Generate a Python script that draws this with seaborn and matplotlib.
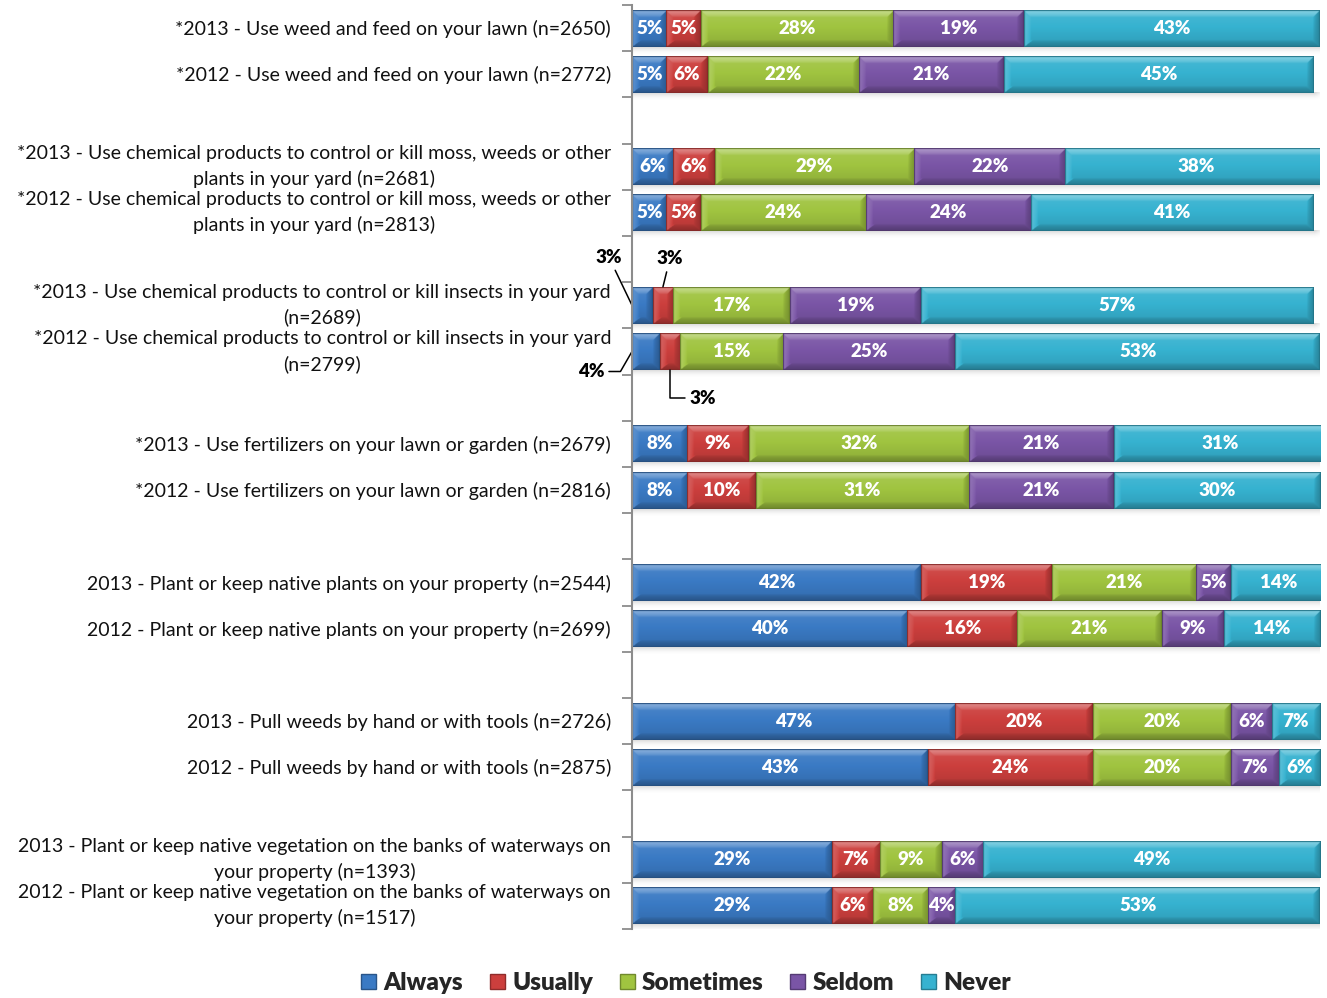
import textwrap
import numpy as np
import pandas as pd
import matplotlib
matplotlib.use("Agg")
import matplotlib.pyplot as plt
from matplotlib.colors import to_rgb
from matplotlib.patches import Patch
from matplotlib.transforms import ScaledTranslation
import seaborn as sns

# ---------------------------------------------------------------- data
series = ["Always", "Usually", "Sometimes", "Seldom", "Never"]

questions = [
    "*2013 - Use weed and feed on your lawn (n=2650)",
    "*2012 - Use weed and feed on your lawn (n=2772)",
    "*2013 - Use chemical products to control or kill moss, weeds or other plants in your yard (n=2681)",
    "*2012 - Use chemical products to control or kill moss, weeds or other plants in your yard (n=2813)",
    "*2013 - Use chemical products to control or kill insects in your yard (n=2689)",
    "*2012 - Use chemical products to control or kill insects in your yard (n=2799)",
    "*2013 - Use fertilizers on your lawn or garden (n=2679)",
    "*2012 - Use fertilizers on your lawn or garden (n=2816)",
    "2013 - Plant or keep native plants on your property (n=2544)",
    "2012 - Plant or keep native plants on your property (n=2699)",
    "2013 - Pull weeds by hand or with tools (n=2726)",
    "2012 - Pull weeds by hand or with tools (n=2875)",
    "2013 - Plant or keep native vegetation on the banks of waterways on your property (n=1393)",
    "2012 - Plant or keep native vegetation on the banks of waterways on your property (n=1517)",
]
always    = [5, 5, 6, 5, 3, 4, 8, 8, 42, 40, 47, 43, 29, 29]
usually   = [5, 6, 6, 5, 3, 3, 9, 10, 19, 16, 20, 24, 7, 6]
sometimes = [28, 22, 29, 24, 17, 15, 32, 31, 21, 21, 20, 20, 9, 8]
seldom    = [19, 21, 22, 24, 19, 25, 21, 21, 5, 9, 6, 7, 6, 4]
never     = [43, 45, 38, 41, 57, 53, 31, 30, 14, 14, 7, 6, 49, 53]

colors = ["#3a7ac4", "#cc3f3d", "#a0c440", "#7a55a6", "#36b2d0"]

# ---------------------------------------------------------------- layout
# each 2013/2012 pair is followed by an empty slot
n_rows = len(questions)
slots = [i + i // 2 for i in range(n_rows)]
n_slots = slots[-1] + 1

df = pd.DataFrame({"slot": slots, "question": questions,
                   "Always": always, "Usually": usually, "Sometimes": sometimes,
                   "Seldom": seldom, "Never": never})

sns.set_theme(style="white")
plt.rcParams["font.family"] = ["Lato", "DejaVu Sans"]

W, H = 1327, 998
fig, ax = plt.subplots(figsize=(W / 100, H / 100), dpi=100)
fig.subplots_adjust(left=632 / W, right=1320 / W, top=1 - 5 / H, bottom=1 - 929 / H)

bar_h = 0.8
lefts = np.zeros(n_slots)
segments = []  # (patch, series, value, row, colour)
row_of_slot = {s: i for i, s in enumerate(slots)}
for name, col in zip(series, colors):
    n0 = len(ax.patches)
    sns.barplot(data=df, x=name, y="slot", order=list(range(n_slots)), orient="h",
                color=col, saturation=1, width=bar_h, errorbar=None, ax=ax)
    for p in ax.patches[n0:]:
        s = int(round(p.get_y() + p.get_height() / 2))
        if s not in row_of_slot:
            continue
        r = row_of_slot[s]
        v = df.loc[r, name]
        p.set_x(lefts[s])
        p.set_linewidth(0)
        segments.append((p, name, v, r, col))
        lefts[s] += v

ax.set_xlim(0, 100)
ax.set_ylim(n_slots - 0.5, -0.5)

# pixel scale of one data unit
pos = ax.get_position()
px_per_x = pos.width * W / 100.0
px_per_y = pos.height * H / n_slots


def shade(c, s):
    c = np.asarray(c)
    s = s[..., None]
    return np.where(s > 0, c + (1 - c) * s, c * (1 + s))


def bevel_image(rgb, w_px, h_px, b=7.0):
    nx = max(int(round(w_px)) * 2, 4)
    ny = int(round(h_px)) * 2
    X, Y = np.meshgrid((np.arange(nx) + 0.5) / 2, (np.arange(ny) + 0.5) / 2)
    wp, hp = nx / 2, ny / 2
    dl, dr, dt, db = X, wp - X, Y, hp - Y
    t = Y / hp
    s = 0.10 - 0.22 * t
    d = np.stack([dt, dl, dr, db * 1.3])
    k = np.argmin(d, axis=0)
    dmin = np.min(np.stack([dt, dl, dr, db]), axis=0)
    edge_s = np.array([0.40, 0.18, -0.25, -0.30])[k]
    inb = dmin < b
    ramp = np.clip(1 - dmin / b, 0, 1) ** 0.6
    s = np.where(inb, s * (1 - ramp) + edge_s * ramp, s)
    s = np.where(dmin < 0.8, -0.35, s)
    return np.clip(shade(rgb, s), 0, 1)


for p, name, v, r, col in segments:
    x0, y0 = p.get_x(), p.get_y()
    w, h = p.get_width(), p.get_height()
    img = bevel_image(to_rgb(col), w * px_per_x, h * px_per_y)
    ax.imshow(img, extent=(x0, x0 + w, y0 + h, y0), origin="upper",
              aspect="auto", interpolation="bilinear", zorder=3)

# soft shadow under each full bar
for i, s in enumerate(slots):
    total = lefts[s]
    y_bot = s + bar_h / 2
    sh_px = 8
    ny = sh_px * 2
    nx = int(total * px_per_x) + 8
    yy = (np.arange(ny) + 0.5) / ny
    xx = np.arange(nx)
    a = 0.32 * (1 - yy)[:, None] ** 2 * np.clip((nx - xx) / 8.0, 0, 1)[None, :]
    rgba = np.zeros((ny, nx, 4))
    rgba[..., :3] = 0.45
    rgba[..., 3] = a
    ax.imshow(rgba, extent=(0.2, 0.2 + nx / px_per_x, y_bot + sh_px / px_per_y, y_bot - 1 / px_per_y),
              origin="upper", aspect="auto", interpolation="bilinear", zorder=2)

ax.set_xlim(0, 100)
ax.set_ylim(n_slots - 0.5, -0.5)

# ---------------------------------------------------------------- value labels
callouts = {
    (4, "Always"):  dict(anchor="mid-left", offset=(-16.6, 34.6), conn="arc3,rad=0"),
    (4, "Usually"): dict(anchor="top", offset=(5.0, 20.2), conn="arc3,rad=0"),
    (5, "Always"):  dict(anchor="mid-left", offset=(-29.5, -14.4), conn="angle,angleA=0,angleB=60,rad=0"),
    (5, "Usually"): dict(anchor="bottom", offset=(23.8, -20.2), conn="angle,angleA=0,angleB=90,rad=0"),
}
for p, name, v, r, col in segments:
    x0, y0 = p.get_x(), p.get_y()
    w, h = p.get_width(), p.get_height()
    label = f"{v}%"
    key = (r, name)
    if key in callouts:
        c = callouts[key]
        if c["anchor"] == "mid-left":
            xy = (x0, y0 + h / 2)
        elif c["anchor"] == "top":
            xy = (x0 + w / 2, y0)
        else:
            xy = (x0 + w / 2, y0 + h)
        ax.annotate(label, xy=xy, xytext=c["offset"], textcoords="offset points",
                    ha="center", va="center", fontsize=13.5, fontweight="heavy", color="black",
                    zorder=6, annotation_clip=False,
                    arrowprops=dict(arrowstyle="-", color="black", lw=1.1,
                                    shrinkA=1, shrinkB=0, connectionstyle=c["conn"]))
    else:
        ax.text(x0 + w / 2, y0 + h / 2, label, ha="center", va="center",
                fontsize=13.5, fontweight="heavy", color="white", zorder=5)

# ---------------------------------------------------------------- category labels
ax.set_yticks(range(n_slots))
ax.set_yticklabels([""] * n_slots)
for i, s in enumerate(slots):
    text = textwrap.fill(questions[i], width=69)
    dy = 0.0 if "\n" in text else -0.01
    trans = ax.get_yaxis_transform() + ScaledTranslation(-0.21, dy, fig.dpi_scale_trans)
    ax.text(0, s, text, transform=trans, ha="right", va="center", multialignment="center",
            fontsize=14, color="#111111", linespacing=1.52, clip_on=False)

ax.set_yticks(np.arange(-0.5, n_slots, 1.0), minor=True)
ax.tick_params(axis="y", which="major", length=0)
ax.tick_params(axis="y", which="minor", length=7, width=1.3, color="#8c8c8c", direction="out", left=True)
ax.set_xticks([])
ax.set_xlabel("")
ax.set_ylabel("")
for side in ["top", "right", "bottom"]:
    ax.spines[side].set_visible(False)
ax.spines["left"].set_color("#8c8c8c")
ax.spines["left"].set_linewidth(1.5)
ax.spines["left"].set_zorder(7)

# ---------------------------------------------------------------- legend
handles = [Patch(facecolor=c, edgecolor=tuple(np.array(to_rgb(c)) * 0.7), linewidth=1) for c in colors]
fig.legend(handles, series, loc="center", bbox_to_anchor=(686 / W, 1 - 983 / H),
           ncol=5, frameon=False, prop=dict(size=17.5, weight="heavy"),
           handlelength=0.62, handleheight=0.62, handletextpad=0.3, columnspacing=1.1)

fig.savefig("out.png", dpi=100)
